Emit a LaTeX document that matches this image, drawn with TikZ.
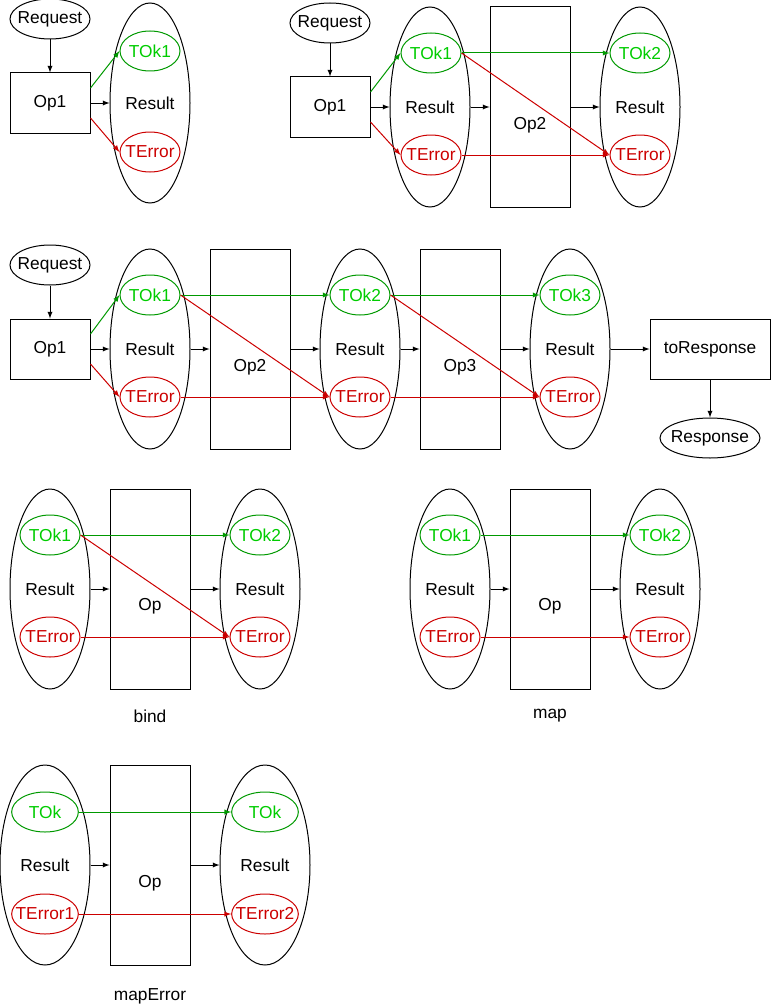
\documentclass[tikz,border=0pt]{standalone}
\usepackage{fontspec}
\setmainfont{Liberation Sans}
\usetikzlibrary{shapes.geometric,arrows}
\usetikzlibrary{positioning}
\definecolor{okline}{HTML}{009900}
\definecolor{oktext}{HTML}{00CC00}
\definecolor{errred}{HTML}{CC0000}

\begin{document}
\begin{tikzpicture}[x=0.75pt,y=-0.75pt,line width=0.75pt,
  font=\fontsize{13}{15}\selectfont,
  res/.style={ellipse,draw,minimum width=60pt,minimum height=150pt,inner sep=0pt},
  wideres/.style={res,minimum width=67.5pt},
  ok/.style={ellipse,draw=okline,text=oktext,minimum width=45pt,minimum height=30pt,inner ysep=0pt,inner xsep=-5pt},
  err/.style={ellipse,draw=errred,text=errred,minimum width=45pt,minimum height=30pt,inner ysep=0pt,inner xsep=-5pt},
  opbox/.style={draw,minimum width=60pt,minimum height=150pt,inner sep=0pt},
  stepbox/.style={draw,minimum width=60pt,minimum height=45pt,inner sep=0pt},
  io/.style={ellipse,draw,minimum width=60pt,minimum height=30pt,inner ysep=0pt,inner xsep=-5pt},
  arr/.style={-latex},
  okarr/.style={-latex,draw=okline},
  errarr/.style={-latex,draw=errred}]
\useasboundingbox (0,0) rectangle (771,1006);

% one step
\node[stepbox] (op1a) at (50,103) {Op1};
\node[io,above=24.75pt of op1a] (reqa) {Request};
\node[res] (resa) at (150,103) {Result};
\node[ok] (oka) at (150,51) {TOk1};
\node[err] (erra) at (150,152) {TError};
\draw[arr] (reqa) -- (op1a);
\draw[arr] (op1a) -- (resa);
\draw[okarr] ([yshift=11.25pt]op1a.east) -- (oka.west);
\draw[errarr] ([yshift=-11.25pt]op1a.east) -- (erra.west);

% two steps
\node[stepbox] (op1b) at (330,107) {Op1};
\node[io,above=24.75pt of op1b] (reqb) {Request};
\node[res] (resb1) at (430,107) {Result};
\node[ok] (okb1) at (431,53) {TOk1};
\node[err] (errb1) at (431,155) {TError};
\node[opbox] (op2b) at (530,107) {};
\node (op2bt) at ([yshift=-14pt]op2b.center) {Op2};
\node[res] (resb2) at (640,107) {Result};
\node[ok] (okb2) at (640,53) {TOk2};
\node[err] (errb2) at (640,155) {TError};
\draw[arr] (reqb) -- (op1b);
\draw[arr] (op1b) -- (resb1);
\draw[okarr] ([yshift=11.25pt]op1b.east) -- (okb1.west);
\draw[errarr] ([yshift=-11.25pt]op1b.east) -- (errb1.west);
\draw[arr] (resb1.east) -- (op2b.west);
\draw[arr] (op2b.east) -- (resb2.west);
\draw[okarr] (okb1.east) -- (okb2.west);
\draw[errarr] (okb1.east) -- (errb2.west);
\draw[errarr] (errb1.east) -- (errb2.west);

% whole chain
\node[stepbox] (op1c) at (50,349) {Op1};
\node[io,above=24.75pt of op1c] (reqc) {Request};
\node[res] (resc1) at (150,349) {Result};
\node[ok] (okc1) at (150,295) {TOk1};
\node[err] (errc1) at (150,397) {TError};
\node[opbox] (op2c) at (250,349) {};
\node (op2ct) at ([yshift=-13.5pt]op2c.center) {Op2};
\node[res] (resc2) at (360,349) {Result};
\node[ok] (okc2) at (360,295) {TOk2};
\node[err] (errc2) at (360,397) {TError};
\node[opbox] (op3c) at (460,349) {};
\node (op3ct) at ([yshift=-13.5pt]op3c.center) {Op3};
\node[res] (resc3) at (570,349) {Result};
\node[ok] (okc3) at (570,295) {TOk3};
\node[err] (errc3) at (570,397) {TError};
\node[stepbox,minimum width=90pt] (toresp) at (710,349) {toResponse};
\node[io,minimum width=75pt,below=28.5pt of toresp] (resp) {Response};
\draw[arr] (reqc) -- (op1c);
\draw[arr] (op1c) -- (resc1);
\draw[okarr] ([yshift=11.25pt]op1c.east) -- (okc1.west);
\draw[errarr] ([yshift=-11.25pt]op1c.east) -- (errc1.west);
\draw[arr] (resc1.east) -- (op2c.west);
\draw[arr] (op2c.east) -- (resc2.west);
\draw[okarr] (okc1.east) -- (okc2.west);
\draw[errarr] (okc1.east) -- (errc2.west);
\draw[errarr] (errc1.east) -- (errc2.west);
\draw[arr] (resc2.east) -- (op3c.west);
\draw[arr] (op3c.east) -- (resc3.west);
\draw[okarr] (okc2.east) -- (okc3.west);
\draw[errarr] (okc2.east) -- (errc3.west);
\draw[errarr] (errc2.east) -- (errc3.west);
\draw[arr] (resc3.east) -- (toresp.west);
\draw[arr] (toresp) -- (resp);

% bind
\node[res] (resd1) at (50,589) {Result};
\node[ok] (okd1) at (50,535) {TOk1};
\node[err] (errd1) at (50,637) {TError};
\node[opbox] (opd) at (150,589) {};
\node (opdt) at ([yshift=-13pt]opd.center) {Op};
\node[res] (resd2) at (260,589) {Result};
\node[ok] (okd2) at (260,535) {TOk2};
\node[err] (errd2) at (260,637) {TError};
\node (bindt) at (150,716) {bind};
\draw[arr] (resd1.east) -- (opd.west);
\draw[arr] (opd.east) -- (resd2.west);
\draw[okarr] (okd1.east) -- (okd2.west);
\draw[errarr] (okd1.east) -- (errd2.west);
\draw[errarr] (errd1.east) -- (errd2.west);

% map
\node[res] (resm1) at (450,589) {Result};
\node[ok] (okm1) at (450,535) {TOk1};
\node[err] (errm1) at (450,637) {TError};
\node[opbox] (opm) at (550,589) {};
\node (opmt) at ([yshift=-13pt]opm.center) {Op};
\node[res] (resm2) at (660,589) {Result};
\node[ok] (okm2) at (660,535) {TOk2};
\node[err] (errm2) at (660,637) {TError};
\node (mapt) at (550,716) {map};
\draw[arr] (resm1.east) -- (opm.west);
\draw[arr] (opm.east) -- (resm2.west);
\draw[okarr] (okm1.east) -- (okm2.west);
\draw[errarr] (errm1.east) -- (errm2.west);

% mapError
\node[wideres] (rese1) at (45,865) {Result};
\node[ok,minimum width=50pt] (oke1) at (45,812) {TOk};
\node[err,minimum width=50pt] (erre1) at (45,914) {TError1};
\node[opbox] (ope) at (150,865) {};
\node (opet) at ([yshift=-13.5pt]ope.center) {Op};
\node[wideres] (rese2) at (265,865) {Result};
\node[ok,minimum width=50pt] (oke2) at (265,812) {TOk};
\node[err,minimum width=50pt] (erre2) at (265,914) {TError2};
\node (mapet) at (150,996) {mapError};
\draw[arr] (rese1.east) -- (ope.west);
\draw[arr] (ope.east) -- (rese2.west);
\draw[okarr] (oke1.east) -- (oke2.west);
\draw[errarr] (erre1.east) -- (erre2.west);
\end{tikzpicture}
\end{document}
